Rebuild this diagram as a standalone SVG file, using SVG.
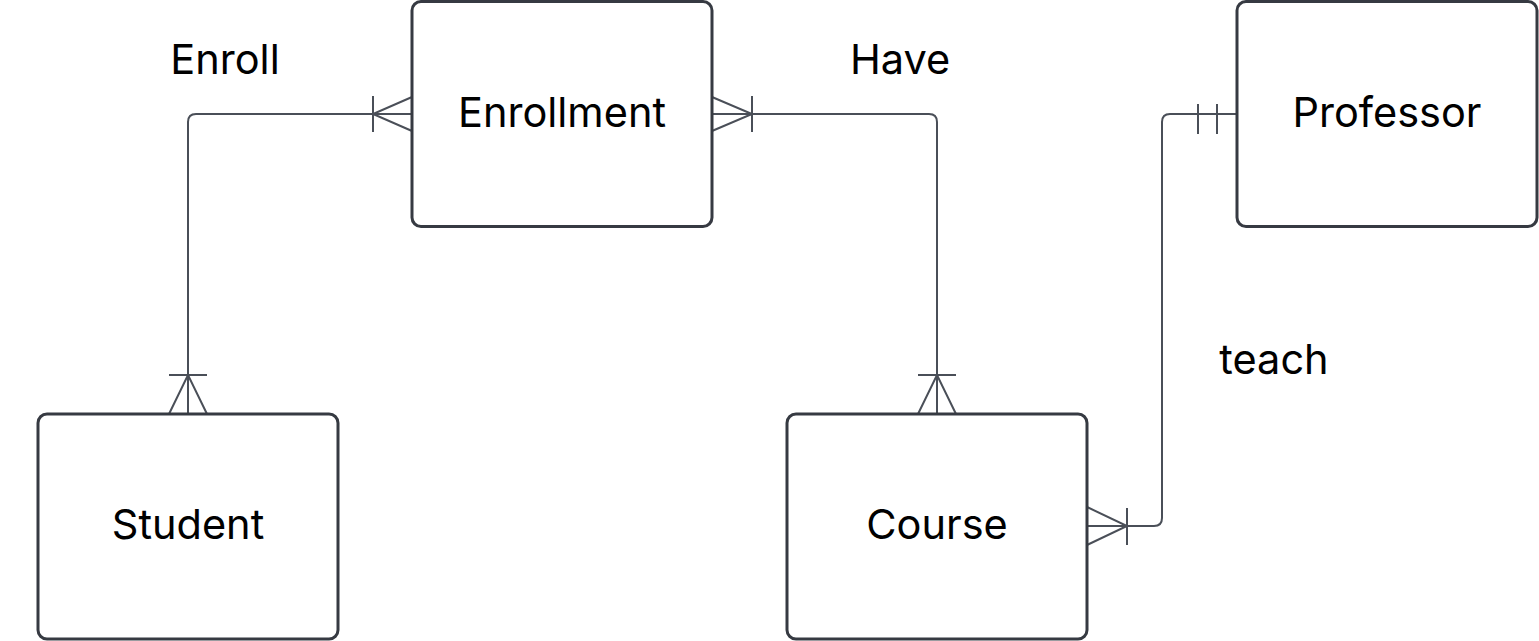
<svg xmlns="http://www.w3.org/2000/svg" width="1539" height="641" viewBox="0 0 1539 641">
<style>
.node rect{fill:#ffffff;stroke:#363a42;stroke-width:3}
.node text{font-family:Inter,"Liberation Sans",sans-serif;font-size:41.5px;fill:#000;text-anchor:middle;dominant-baseline:central}
.conn path{fill:none;stroke:#4a4f58;stroke-width:2}
.lbl{font-family:Inter,"Liberation Sans",sans-serif;font-size:41.5px;fill:#000;text-anchor:middle;dominant-baseline:central}
</style>
<rect width="1539" height="641" fill="#ffffff"/>
<g id="connectors" class="conn">
<path d="M412,114 H196 Q188,114 188,122 V414"/>
<path d="M373,96 V132 M412,97 L373,114 L412,131"/>
<path d="M169,375 H207 M169,414 L188,375 L207,414"/>
<path d="M712,114 H929 Q937,114 937,122 V414"/>
<path d="M752,96 V132 M712,97 L752,114 L712,131"/>
<path d="M918,375 H956 M918,414 L937,375 L956,414"/>
<path d="M1237,114 H1170 Q1162,114 1162,122 V518 Q1162,526 1154,526 H1087"/>
<path d="M1198,104 V134 M1217,104 V134"/>
<path d="M1127,508 V545 M1087,507 L1127,526 L1087,545"/>
</g>
<text class="lbl" x="225" y="59">Enroll</text>
<text class="lbl" x="900" y="59">Have</text>
<text class="lbl" x="1274" y="359">teach</text>
<g id="enrollment" class="node"><rect x="412" y="1.5" width="300" height="225" rx="9"/><text x="562" y="112">Enrollment</text></g>
<g id="professor" class="node"><rect x="1237" y="1.5" width="300" height="225" rx="9"/><text x="1387" y="112">Professor</text></g>
<g id="student" class="node"><rect x="38" y="414" width="300" height="225" rx="9"/><text x="188" y="524">Student</text></g>
<g id="course" class="node"><rect x="787" y="414" width="300" height="225" rx="9"/><text x="937" y="524">Course</text></g>
</svg>
